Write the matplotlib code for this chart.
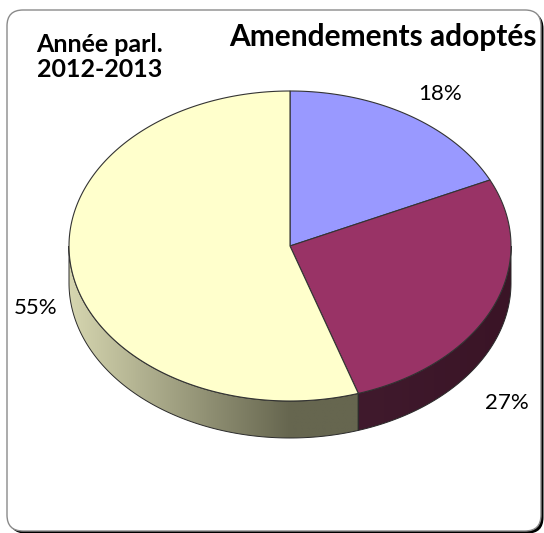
import numpy as np
import matplotlib
matplotlib.use('Agg')
import matplotlib.pyplot as plt
from matplotlib.patches import Polygon, FancyBboxPatch
from matplotlib.colors import to_rgb

# Données du graphique
categories = ['Groupe A', 'Groupe B', 'Groupe C']
valeurs = [18, 27, 55]
etiquettes = ['18%', '27%', '55%']
couleurs = ['#9999FF', '#993366', '#FFFFCC']
couleurs_cote = [('#4a4a80', '#4a4a80'), ('#401a2d', '#3a1426'), ('#d6d6b0', '#66664f')]
titre = 'Amendements adoptés'
sous_titre = 'Année parl.\n2012-2013'

W, H = 544, 533
fig = plt.figure(figsize=(W / 100, H / 100), dpi=100)
ax = fig.add_axes([0, 0, 1, 1])
ax.axis('off')

# Cadre arrondi avec ombre
ombre = FancyBboxPatch((9.5, 12.5), 534, 521, boxstyle='round,pad=0,rounding_size=16',
                       facecolor='black', edgecolor='none', zorder=0)
cadre = FancyBboxPatch((7, 10), 534, 521, boxstyle='round,pad=0,rounding_size=16',
                       facecolor='white', edgecolor='#8a8a8a', linewidth=1.0, zorder=1)
ax.add_patch(ombre)
ax.add_patch(cadre)

# Géométrie du camembert 3D
cx, cy, rx, ry, ep = 290, 246, 221, 155, 37
total = float(sum(valeurs))
bornes = 90 - 360 * np.concatenate([[0], np.cumsum(valeurs)]) / total


def pt(theta, dy=0.0):
    t = np.radians(theta)
    return cx + rx * np.cos(t), cy - ry * np.sin(t) + dy


# Faces latérales (partie avant seulement: angles entre -180 et 0)
for i in range(len(valeurs)):
    a0, a1 = bornes[i], bornes[i + 1]
    lo, hi = max(min(a0, a1), -180), min(max(a0, a1), 0)
    if lo >= hi:
        continue
    arc_h = [pt(t) for t in np.linspace(hi, lo, 120)]
    arc_b = [pt(t, ep) for t in np.linspace(lo, hi, 120)]
    poly = Polygon(arc_h + arc_b, closed=True, facecolor='none',
                   edgecolor='#2a2a2a', linewidth=0.7, zorder=3)
    ax.add_patch(poly)
    xs = np.array([p[0] for p in arc_h])
    x0, x1 = xs.min(), xs.max()
    # dégradé horizontal: clair à gauche, sombre vers le centre
    gx = np.linspace(x0, x1, 300)
    f = np.clip((gx - x0) / max(cx - x0, 1), 0, 1) if i == 2 else (gx - x0) / (x1 - x0)
    c_clair = np.array(to_rgb(couleurs_cote[i][0]))
    c_sombre = np.array(to_rgb(couleurs_cote[i][1]))
    img = c_clair[None, :] * (1 - f[:, None]) + c_sombre[None, :] * f[:, None]
    im = ax.imshow(img[None, :, :], extent=(x0, x1, cy + ep + ry + 2, cy - 2),
                   aspect='auto', interpolation='bilinear', zorder=2)
    im.set_clip_path(poly)

# Faces supérieures
for i in range(len(valeurs)):
    a0, a1 = bornes[i], bornes[i + 1]
    arc = [pt(t) for t in np.linspace(a0, a1, 200)]
    ax.add_patch(Polygon([(cx, cy)] + arc, closed=True, facecolor=couleurs[i],
                         edgecolor='#333333', linewidth=0.8, zorder=4))

# Étiquettes
pos_etiquettes = [(440, 94), (507, 403), (36, 308)]
for txt, (x, y) in zip(etiquettes, pos_etiquettes):
    ax.text(x, y, txt, ha='center', va='center', fontsize=16,
            family='Lato', color='black', zorder=5)

ax.text(383, 37, titre, ha='center', va='center', fontsize=21.5,
        family='Lato', fontweight='bold', zorder=5)
ax.text(100, 57, sous_titre, ha='center', va='center', fontsize=18,
        family='Lato', fontweight='bold', linespacing=1.1, zorder=5)

ax.set_xlim(0, W)
ax.set_ylim(H, 0)
fig.savefig('out.png', dpi=100)
